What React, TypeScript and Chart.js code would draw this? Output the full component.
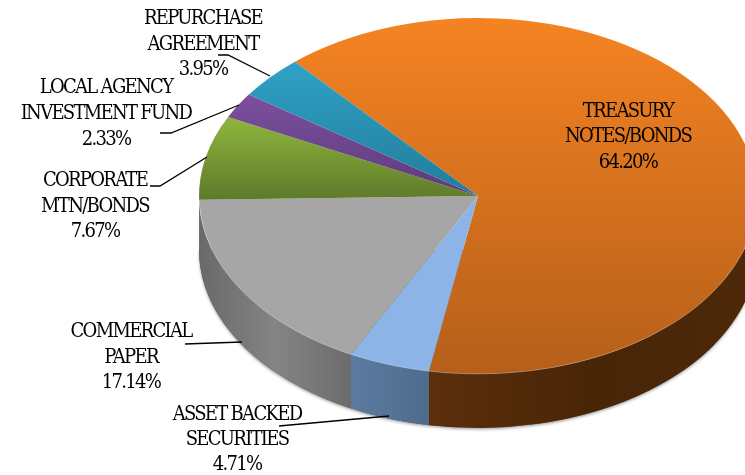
import React, { useEffect, useRef } from "react";
import { Chart, registerables } from "chart.js";

Chart.register(...registerables);

// Portfolio composition, in percent of the total
const categories = [
  ["TREASURY", "NOTES/BONDS"],
  ["ASSET BACKED", "SECURITIES"],
  ["COMMERCIAL", "PAPER"],
  ["CORPORATE", "MTN/BONDS"],
  ["LOCAL AGENCY", "INVESTMENT FUND"],
  ["REPURCHASE", "AGREEMENT"],
];
const shares = [64.2, 4.71, 17.14, 7.67, 2.33, 3.95];

// Lid shading, light edge to dark edge of each slice
const lidLight = ["#f58322", "#8db4e6", "#a6a6a6", "#8fb63d", "#7c4f9f", "#30a2c6"];
const lidDark = ["#b55f1a", "#8db4e6", "#a6a6a6", "#5e7a2b", "#5d3c7a", "#227c9b"];
// Wall shading, from the slice's right end to its left end
const wallShades = [
  ["#4d2909", "#482507", "#5c2f0c"],
  ["#4e6b8c", "#557497", "#5b7a9f"],
  ["#6c6c6c", "#848484", "#696969"],
  ["#4f6522", "#4f6522", "#4f6522"],
  ["#4a2f60", "#4a2f60", "#4a2f60"],
  ["#1b6580", "#1b6580", "#1b6580"],
];

// Pie geometry
const WIDTH = 745;
const HEIGHT = 475;
const CENTER_X = 478;
const CENTER_Y = 196;
const RADIUS = 279;
const SQUASH = 0.638;
const DEPTH = 54;
const ROTATION = -41;

// Label placement: centre x and the baselines of the three text lines
const labelSpots = [
  { x: 628, ys: [117, 142, 168] },
  { x: 237, ys: [420, 445, 470] },
  { x: 131, ys: [337, 363, 388] },
  { x: 95, ys: [186, 212, 237] },
  { x: 106, ys: [93, 119, 145] },
  { x: 203, ys: [24, 50, 75] },
];
const leaders = [
  [],
  [[279, 426], [389, 416]],
  [[185, 344], [242, 342]],
  [[150, 186], [160, 186], [207, 157]],
  [[160, 133], [171, 133], [239, 105]],
  [[218, 55], [228, 55], [270, 76]],
];

// Vertical extent of a slice on the unsquashed disc, for its lid gradient
function sliceRange(index: number) {
  const total = shares.reduce((a, b) => a + b, 0);
  const before = shares.slice(0, index).reduce((a, b) => a + b, 0);
  const start = ((ROTATION - 90) * Math.PI) / 180 + (before / total) * 2 * Math.PI;
  const end = start + (shares[index] / total) * 2 * Math.PI;
  let min = 0;
  let max = 0;
  for (let k = 0; k <= 40; k++) {
    const s = Math.sin(start + ((end - start) * k) / 40);
    min = Math.min(min, s);
    max = Math.max(max, s);
  }
  return [min, max];
}

const pie3d = {
  id: "pie3d",
  beforeDatasetsDraw(chart: any) {
    const { ctx } = chart;
    const arcs = chart.getDatasetMeta(0).data;
    const ry = RADIUS * SQUASH;

    ctx.save();
    // Soft shadow below the rim
    ctx.shadowColor = "rgba(0,0,0,0.35)";
    ctx.shadowBlur = 3;
    ctx.shadowOffsetY = 1.5;
    ctx.beginPath();
    ctx.ellipse(CENTER_X, CENTER_Y + DEPTH, RADIUS, ry, 0, 0, Math.PI);
    ctx.closePath();
    ctx.fillStyle = "#666";
    ctx.fill();
    ctx.restore();

    // Visible wall of each slice: the part of its arc on the front half
    arcs.forEach((arc: any, i: number) => {
      const a0 = Math.max(arc.startAngle, 0);
      const a1 = Math.min(arc.endAngle, Math.PI);
      if (a1 <= a0) return;
      const xa = CENTER_X + RADIUS * Math.cos(a0);
      const xb = CENTER_X + RADIUS * Math.cos(a1);
      const grad = ctx.createLinearGradient(xa, 0, xb, 0);
      wallShades[i].forEach((c, k) => grad.addColorStop(k / 2, c));
      ctx.beginPath();
      ctx.ellipse(CENTER_X, CENTER_Y, RADIUS, ry, 0, a0, a1);
      ctx.ellipse(CENTER_X, CENTER_Y + DEPTH, RADIUS, ry, 0, a1, a0, true);
      ctx.closePath();
      ctx.fillStyle = grad;
      ctx.fill();
    });

    // The flat disc is squashed into an ellipse while the arcs are drawn
    ctx.save();
    ctx.translate(CENTER_X, CENTER_Y);
    ctx.scale(1, SQUASH);
    ctx.translate(-CENTER_X, -CENTER_Y);
  },
  afterDatasetsDraw(chart: any) {
    const { ctx } = chart;
    ctx.restore();

    // Thin highlight where the lid meets the wall
    ctx.beginPath();
    ctx.ellipse(CENTER_X, CENTER_Y, RADIUS, RADIUS * SQUASH, 0, 0.02, Math.PI - 0.02);
    ctx.strokeStyle = "rgba(255,255,255,0.28)";
    ctx.lineWidth = 1;
    ctx.stroke();

    // Leader lines
    ctx.strokeStyle = "#000";
    ctx.lineWidth = 1.3;
    leaders.forEach((line) => {
      if (!line.length) return;
      ctx.beginPath();
      line.forEach(([x, y], k) => (k ? ctx.lineTo(x, y) : ctx.moveTo(x, y)));
      ctx.stroke();
    });

    // Slice labels
    ctx.fillStyle = "#000";
    ctx.font = '20px "DejaVu Serif Condensed", "DejaVu Serif"';
    ctx.textAlign = "center";
    ctx.textBaseline = "alphabetic";
    (ctx as any).letterSpacing = "-1.7px";
    categories.forEach((name, i) => {
      const spot = labelSpots[i];
      const lines = [...name, `${shares[i].toFixed(2)}%`];
      lines.forEach((text, k) => ctx.fillText(text, spot.x, spot.ys[k]));
    });
    (ctx as any).letterSpacing = "0px";
  },
};

export default function App() {
  const ref = useRef<HTMLCanvasElement>(null);

  useEffect(() => {
    const canvas = ref.current;
    if (!canvas) return;
    const chart = new Chart(canvas, {
      type: "pie",
      data: {
        labels: categories.map((c) => c.join(" ")),
        datasets: [
          {
            data: shares,
            borderWidth: 0,
            clip: false,
            backgroundColor: (c: any) => {
              const i = c.dataIndex;
              if (i === undefined) return lidLight[0];
              const [lo, hi] = sliceRange(i);
              const g = c.chart.ctx.createLinearGradient(
                0,
                CENTER_Y + RADIUS * lo,
                0,
                CENTER_Y + RADIUS * hi
              );
              g.addColorStop(0, lidLight[i]);
              g.addColorStop(1, lidDark[i]);
              return g;
            },
          } as any,
        ],
      },
      options: {
        responsive: false,
        animation: false,
        rotation: ROTATION,
        radius: RADIUS,
        layout: {
          padding: {
            left: CENTER_X * 2 - WIDTH,
            bottom: HEIGHT - CENTER_Y * 2,
          },
        },
        plugins: { legend: { display: false }, tooltip: { enabled: false } },
      } as any,
      plugins: [pie3d],
    });
    return () => chart.destroy();
  }, []);

  return (
    <div style={{ position: "fixed", left: 0, top: 0, width: WIDTH, height: HEIGHT, background: "#fff" }}>
      <canvas ref={ref} width={WIDTH} height={HEIGHT} style={{ display: "block" }} />
    </div>
  );
}
